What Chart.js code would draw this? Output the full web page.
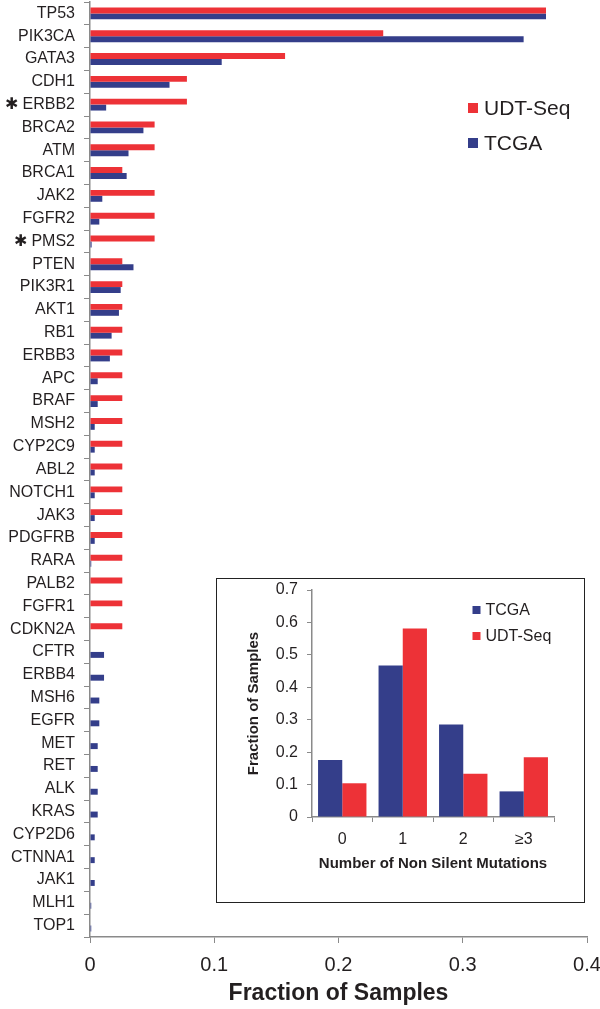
<!DOCTYPE html>
<html>
<head>
<meta charset="utf-8">
<script src="https://cdn.jsdelivr.net/npm/chart.js@4.4.0/dist/chart.umd.min.js"></script>
<style>
  html, body { margin: 0; padding: 0; background: #fff; }
  #wrap { position: relative; width: 600px; height: 1009px; }
  #inset { position: absolute; left: 216px; top: 578px; width: 369px; height: 325px;
           box-sizing: border-box; border: 1.5px solid #222; background: #fff; }
  canvas { display: block; }
</style>
</head>
<body>
<div id="wrap">
  <canvas id="mainChart" width="600" height="1009"></canvas>
  <div id="inset"><canvas id="insetChart" width="366" height="322"></canvas></div>
</div>
<script>
  // gene-level fractions (main chart)
  var genes = ['TP53', 'PIK3CA', 'GATA3', 'CDH1', '\u2731 ERBB2', 'BRCA2', 'ATM', 'BRCA1', 'JAK2', 'FGFR2',
               '\u2731 PMS2', 'PTEN', 'PIK3R1', 'AKT1', 'RB1', 'ERBB3', 'APC', 'BRAF', 'MSH2', 'CYP2C9',
               'ABL2', 'NOTCH1', 'JAK3', 'PDGFRB', 'RARA', 'PALB2', 'FGFR1', 'CDKN2A', 'CFTR', 'ERBB4',
               'MSH6', 'EGFR', 'MET', 'RET', 'ALK', 'KRAS', 'CYP2D6', 'CTNNA1', 'JAK1', 'MLH1', 'TOP1'];
  var udtSeq = [0.367, 0.236, 0.157, 0.078, 0.078, 0.052, 0.052, 0.026, 0.052, 0.052,
                0.052, 0.026, 0.026, 0.026, 0.026, 0.026, 0.026, 0.026, 0.026, 0.026,
                0.026, 0.026, 0.026, 0.026, 0.026, 0.026, 0.026, 0.026, 0, 0,
                0, 0, 0, 0, 0, 0, 0, 0, 0, 0, 0];
  var tcga = [0.367, 0.349, 0.106, 0.064, 0.013, 0.043, 0.031, 0.0295, 0.0099, 0.0075,
              0.0013, 0.035, 0.0247, 0.0233, 0.0174, 0.016, 0.0062, 0.0062, 0.0038, 0.0038,
              0.0038, 0.0038, 0.0038, 0.0038, 0.001, 0, 0, 0, 0.0113, 0.0113,
              0.0075, 0.0075, 0.0062, 0.0062, 0.0062, 0.0062, 0.0038, 0.0038, 0.0038, 0.001, 0.001];

  // inset: number of non silent mutations
  var mutCats = ['0', '1', '2', '\u22653'];
  var mutTcga = [0.176, 0.467, 0.285, 0.079];
  var mutUdt = [0.104, 0.581, 0.133, 0.184];

  var RED = '#ED3237';
  var BLUE = '#343E8A';
  var AXIS = '#8a8a8a';
  var FONT = "'Liberation Sans', Arial, sans-serif";

  Chart.defaults.font.family = FONT;
  Chart.defaults.color = '#231f20';

  // fixed scale size, and drop the extra label padding chart.js asks for
  function fixSize(w, h) {
    return function (s) {
      if (w) s.width = w;
      if (h) s.height = h;
      s.paddingTop = s.paddingBottom = s.paddingLeft = s.paddingRight = 0;
    };
  }

  // simple square-box legend drawn inside the plot
  var boxLegend = {
    id: 'boxLegend',
    afterDraw: function (chart, args, opts) {
      var ctx = chart.ctx;
      ctx.save();
      ctx.font = opts.font;
      ctx.textBaseline = 'middle';
      ctx.textAlign = 'left';
      opts.order.forEach(function (di, i) {
        var ds = chart.data.datasets[di];
        var y = opts.y + i * opts.gap;
        ctx.fillStyle = ds.backgroundColor;
        ctx.fillRect(opts.x, y - opts.box / 2, opts.box, opts.box);
        ctx.fillStyle = '#231f20';
        ctx.fillText(ds.label, opts.x + opts.box + opts.space, y + 1);
      });
      ctx.restore();
    }
  };

  new Chart(document.getElementById('mainChart'), {
    type: 'bar',
    data: {
      labels: genes,
      datasets: [
        { label: 'UDT-Seq', data: udtSeq, backgroundColor: RED },
        { label: 'TCGA', data: tcga, backgroundColor: BLUE }
      ]
    },
    options: {
      indexAxis: 'y',
      responsive: false,
      animation: false,
      datasets: { bar: { categoryPercentage: 0.52, barPercentage: 1.0 } },
      layout: { padding: { top: 2, right: 13, left: 0, bottom: 0 } },
      plugins: {
        legend: { display: false },
        tooltip: { enabled: false },
        boxLegend: { x: 468, y: 108, gap: 35, box: 10, space: 6, order: [0, 1], font: '21px ' + FONT }
      },
      scales: {
        x: {
          min: 0, max: 0.4,
          afterFit: fixSize(0, 72),
          grid: { drawOnChartArea: false, color: AXIS, tickLength: 6 },
          border: { color: AXIS, width: 1.5 },
          ticks: { stepSize: 0.1, padding: 10, font: { size: 20 }, color: '#231f20',
                   callback: function (v) { return Math.round(v * 10) / 10; } },
          title: { display: true, text: 'Fraction of Samples', font: { size: 23, weight: 'bold' },
                   color: '#231f20', padding: { top: 0, bottom: 2 } }
        },
        y: {
          afterFit: fixSize(90, 0),
          grid: { drawOnChartArea: false, color: AXIS, tickLength: 6, offset: true },
          border: { color: AXIS, width: 1.5 },
          ticks: { padding: 9, font: { size: 16 }, color: '#231f20', autoSkip: false }
        }
      }
    },
    plugins: [boxLegend]
  });

  new Chart(document.getElementById('insetChart'), {
    type: 'bar',
    data: {
      labels: mutCats,
      datasets: [
        { label: 'TCGA', data: mutTcga, backgroundColor: BLUE },
        { label: 'UDT-Seq', data: mutUdt, backgroundColor: RED }
      ]
    },
    options: {
      responsive: false,
      animation: false,
      datasets: { bar: { categoryPercentage: 0.8, barPercentage: 1.0 } },
      layout: { padding: { top: 11, right: 29, left: 0, bottom: 0 } },
      plugins: {
        legend: { display: false },
        tooltip: { enabled: false },
        boxLegend: { x: 255.5, y: 31, gap: 26, box: 8, space: 5, order: [0, 1], font: '16px ' + FONT }
      },
      scales: {
        x: {
          afterFit: fixSize(0, 84),
          grid: { drawOnChartArea: false, color: AXIS, tickLength: 5, offset: true },
          border: { color: AXIS, width: 1.5 },
          ticks: { padding: 8, font: { size: 16 }, color: '#231f20' },
          title: { display: true, text: 'Number of Non Silent Mutations', font: { size: 15, weight: 'bold' },
                   color: '#231f20', padding: { top: 0, bottom: 28 } }
        },
        y: {
          min: 0, max: 0.7,
          afterFit: fixSize(95, 0),
          grid: { drawOnChartArea: false, color: AXIS, tickLength: 5 },
          border: { color: AXIS, width: 1.5 },
          ticks: { stepSize: 0.1, padding: 9, font: { size: 16 }, color: '#231f20',
                   callback: function (v) { return Math.round(v * 10) / 10; } },
          title: { display: true, text: 'Fraction of Samples', font: { size: 15, weight: 'bold' },
                   color: '#231f20', padding: { top: 28, bottom: 0 } }
        }
      }
    },
    plugins: [boxLegend]
  });
</script>
</body>
</html>
